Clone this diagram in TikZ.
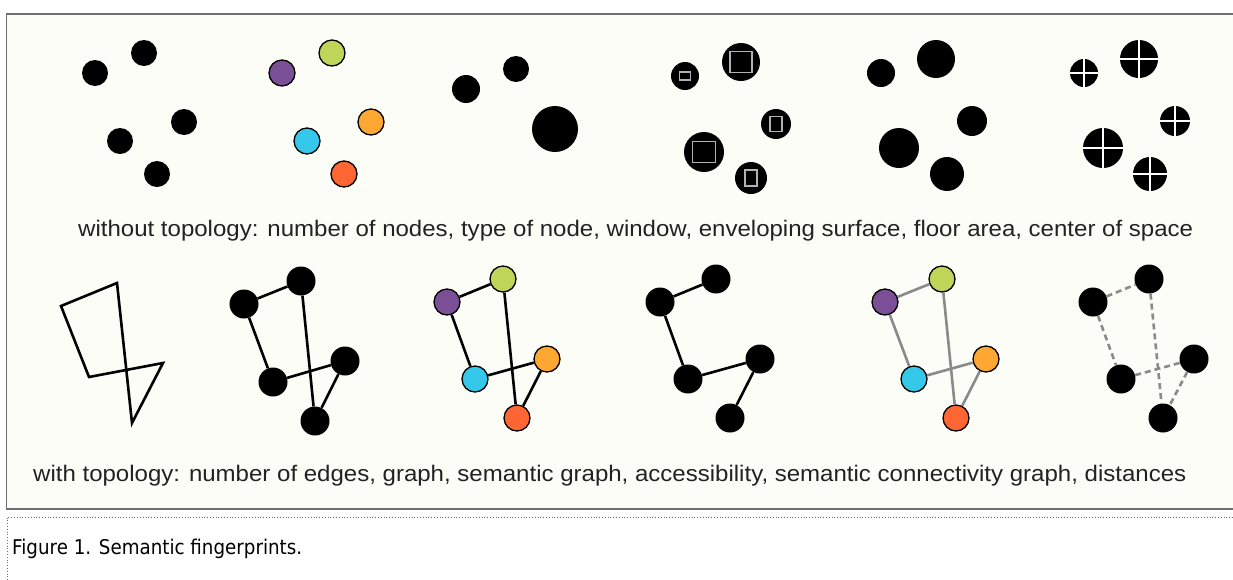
\documentclass[tikz,border=0pt]{standalone}
\usepackage{fontspec}
\setmainfont{Liberation Sans}
\newfontfamily\lblfont{Liberation Sans}[FakeStretch=1.068]
\newfontfamily\capfont{DejaVu Sans}[FakeStretch=0.9]
\definecolor{bgc}{HTML}{FDFDF8}
\definecolor{framec}{HTML}{6E6E6E}
\definecolor{cpurple}{HTML}{7B4F96}
\definecolor{cgreen}{HTML}{BFD55A}
\definecolor{ccyan}{HTML}{35C8EA}
\definecolor{corange}{HTML}{FFA733}
\definecolor{cred}{HTML}{FF6633}
\definecolor{txtc}{HTML}{222222}
\definecolor{edgegray}{HTML}{8A8A8A}
\tikzset{
  dot/.style={circle, fill=black, inner sep=0pt, minimum size=#1},
  dot/.default=26pt,
  cnode/.style={circle, draw=black, line width=1.3pt, fill=#1, inner sep=0pt, minimum size=26pt},
  win/.style={rectangle, draw=black!30, line width=1.7pt, fill=black, inner sep=0pt},
  cross/.style={white, line width=2pt},
  blackedge/.style={draw=black, line width=2.6pt},
  grayedge/.style={draw=edgegray, line width=2.6pt},
  dashedge/.style={draw=edgegray, line width=2.6pt, dash pattern=on 6pt off 4pt},
  lbl/.style={anchor=west, inner sep=0pt, text=txtc, font=\lblfont\fontsize{22.5}{26}\selectfont},
}
\begin{document}
\begin{tikzpicture}[x=1pt,y=-1pt]
\useasboundingbox (0,0) rectangle (1233,579);
\fill[white] (0,0) rectangle (1233,579);
% frame
\draw[fill=bgc, draw=framec, line width=1.5pt] (6.5,14) rectangle (1250,509);
\draw[draw=framec, line width=0.8pt, dotted] (7,517.5) rectangle (1250,600);

% ---------- top row ----------
% panel 1: number of nodes
\node[dot] (a1) at (95,73) {};
\node[dot] (a2) at (144,53) {};
\node[dot] (a3) at (120,141) {};
\node[dot] (a4) at (184,122) {};
\node[dot] (a5) at (157,174) {};
% panel 2: type of node
\node[cnode=cpurple] (b1) at (282,73) {};
\node[cnode=cgreen]  (b2) at (332,53) {};
\node[cnode=ccyan]   (b3) at (307,141) {};
\node[cnode=corange] (b4) at (371,122) {};
\node[cnode=cred]    (b5) at (344,174) {};
% panel 3: window
\node[dot=28pt] (c1) at (466,89) {};
\node[dot=26pt] (c2) at (516,69) {};
\node[dot=46pt] (c3) at (555,129) {};
% panel 4: enveloping surface
\node[dot=28pt] (d1) at (685,76) {};
\node[win, minimum width=11pt, minimum height=8pt] (d1w) at (685,76) {};
\node[dot=38pt] (d2) at (741,62) {};
\node[win, minimum width=22pt, minimum height=21pt] (d2w) at (741,62) {};
\node[dot=30pt] (d3) at (776,124) {};
\node[win, minimum width=12pt, minimum height=15pt] (d3w) at (776,124) {};
\node[dot=40pt] (d4) at (704,152) {};
\node[win, minimum width=23pt, minimum height=21pt] (d4w) at (704,152) {};
\node[dot=32pt] (d5) at (751,178) {};
\node[win, minimum width=12pt, minimum height=16pt] (d5w) at (751,178) {};
% panel 5: floor area
\node[dot=28pt] (e1) at (881,73) {};
\node[dot=38pt] (e2) at (936,59) {};
\node[dot=30pt] (e3) at (972,121) {};
\node[dot=40pt] (e4) at (899,148) {};
\node[dot=34pt] (e5) at (947,174) {};
% panel 6: center of space
\node[dot=28pt] (f1) at (1084,73) {};
\node[dot=38pt] (f2) at (1139,59) {};
\node[dot=30pt] (f3) at (1175,121) {};
\node[dot=40pt] (f4) at (1103,148) {};
\node[dot=34pt] (f5) at (1150,174) {};
\foreach \n in {f1,f2,f3,f4,f5}{
  \draw[cross] (\n.north) -- (\n.south);
  \draw[cross] (\n.west) -- (\n.east);
}

\node[lbl] (toplbl) at (78,231) {without topology: number of nodes, type of node, window, enveloping surface, floor area, center of space};

% ---------- bottom row ----------
% panel 1: number of edges
\coordinate (p1) at (61,306);
\coordinate (p2) at (117,283);
\coordinate (p3) at (132,423);
\coordinate (p4) at (163,363);
\coordinate (p5) at (89,377);
\draw[line width=2.6pt, line join=miter] (p1) -- (p2) -- (p3) -- (p4) -- (p5) -- cycle;

% panel 2: graph
\node[dot=29pt] (g1) at (244,304) {};
\node[dot=29pt] (g2) at (301,281) {};
\node[dot=29pt] (g3) at (345,361) {};
\node[dot=29pt] (g4) at (273,382) {};
\node[dot=29pt] (g5) at (315,421) {};
\draw[blackedge] (g1) -- (g2);
\draw[blackedge] (g1) -- (g4);
\draw[blackedge] (g2) -- (g5);
\draw[blackedge] (g4) -- (g3);
\draw[blackedge] (g3) -- (g5);

% panel 3: semantic graph
\node[cnode=cpurple] (h1) at (447,302) {};
\node[cnode=cgreen]  (h2) at (503,279) {};
\node[cnode=corange] (h3) at (547,359) {};
\node[cnode=ccyan]   (h4) at (475,379) {};
\node[cnode=cred]    (h5) at (517,418) {};
\draw[blackedge] (h1) -- (h2);
\draw[blackedge] (h1) -- (h4);
\draw[blackedge] (h2) -- (h5);
\draw[blackedge] (h4) -- (h3);
\draw[blackedge] (h3) -- (h5);

% panel 4: accessibility
\node[dot=29pt] (i1) at (660,302) {};
\node[dot=29pt] (i2) at (716,279) {};
\node[dot=29pt] (i3) at (760,359) {};
\node[dot=29pt] (i4) at (688,379) {};
\node[dot=29pt] (i5) at (730,418) {};
\draw[blackedge] (i1) -- (i2);
\draw[blackedge] (i1) -- (i4);
\draw[blackedge] (i4) -- (i3);
\draw[blackedge] (i3) -- (i5);

% panel 5: semantic connectivity graph
\node[cnode=cpurple] (j1) at (885,302) {};
\node[cnode=cgreen]  (j2) at (942,279) {};
\node[cnode=corange] (j3) at (986,359) {};
\node[cnode=ccyan]   (j4) at (914,379) {};
\node[cnode=cred]    (j5) at (956,418) {};
\draw[grayedge] (j1) -- (j2);
\draw[grayedge] (j1) -- (j4);
\draw[grayedge] (j2) -- (j5);
\draw[grayedge] (j4) -- (j3);
\draw[grayedge] (j3) -- (j5);

% panel 6: distances
\node[dot=29pt] (k1) at (1093,302) {};
\node[dot=29pt] (k2) at (1149,279) {};
\node[dot=29pt] (k3) at (1194,359) {};
\node[dot=29pt] (k4) at (1121,379) {};
\node[dot=29pt] (k5) at (1163,418) {};
\draw[dashedge] (k1) -- (k2);
\draw[dashedge] (k1) -- (k4);
\draw[dashedge] (k2) -- (k5);
\draw[dashedge] (k4) -- (k3);
\draw[dashedge] (k3) -- (k5);

\node[lbl] (botlbl) at (33,476) {with topology: number of edges, graph, semantic graph, accessibility, semantic connectivity graph, distances};

% caption
\node[anchor=west, inner sep=0pt, text=black, font=\capfont\fontsize{20.3}{24}\selectfont] (cap) at (12,549) {Figure 1. Semantic fingerprints.};
\end{tikzpicture}
\end{document}
